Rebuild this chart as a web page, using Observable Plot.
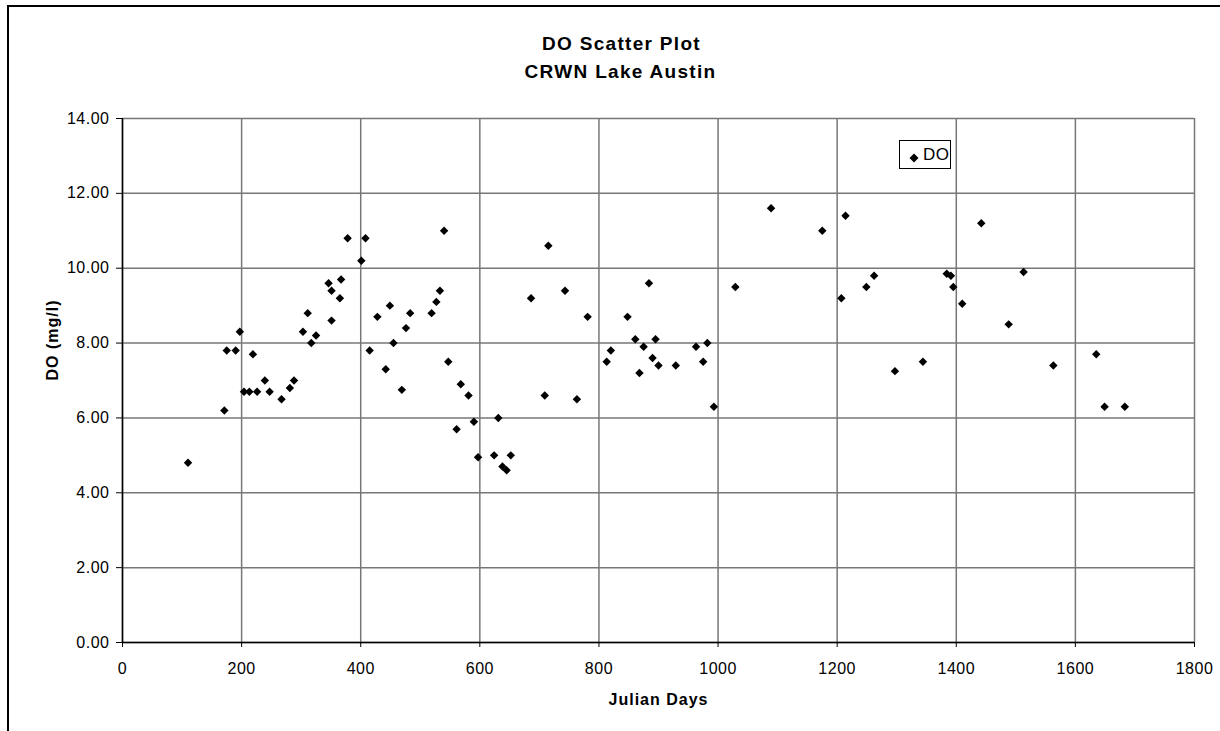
<!DOCTYPE html>
<html>
<head>
<meta charset="utf-8">
<script src="https://cdn.jsdelivr.net/npm/d3@7"></script>
<script src="https://cdn.jsdelivr.net/npm/@observablehq/plot@0.6"></script>
<style>
  html, body { margin: 0; padding: 0; background: #fff; }
  #wrap { position: relative; width: 1220px; height: 731px; overflow: hidden; font-family: "Liberation Sans", Arial, sans-serif; }
  #frame { position: absolute; left: 7px; top: 5px; width: 1300px; height: 800px; border-left: 2px solid #000; border-top: 2px solid #000; pointer-events: none; }
  #legend { position: absolute; left: 899px; top: 140px; width: 50px; height: 27px; border: 1px solid #000; background: #fff; }
  #legend svg { position: absolute; left: 9px; top: 12px; }
  #legend span { position: absolute; left: 23px; top: 4px; font-size: 17px; line-height: 20px; color: #000; letter-spacing: 0.5px; }
</style>
</head>
<body>
<div id="wrap">
  <div id="chart"></div>
  <div id="frame"></div>
  <div id="legend"><svg width="10" height="10"><polygon points="5,0.5 9.5,5 5,9.5 0.5,5" fill="#000"/></svg><span>DO</span></div>
</div>
<script>
// Julian day of each sample
const julianDays = [110, 171, 175, 190, 197, 204, 213, 219, 226, 239, 247, 267, 281, 288, 303, 311, 317, 325,
  346, 351, 351, 365, 367, 378, 401, 408, 415, 428, 442, 449, 455, 469, 476, 483, 519, 527, 533, 540,
  547, 561, 568, 581, 590, 597, 624, 631, 638, 645, 652, 686, 709, 715, 743, 763, 781, 813, 820, 848,
  861, 868, 875, 884, 890, 895, 900, 929, 963, 975, 982, 993, 1029, 1089, 1175, 1214, 1207, 1249, 1262,
  1297, 1344, 1384, 1391, 1395, 1410, 1442, 1488, 1513, 1563, 1635, 1649, 1683];
// Dissolved oxygen (mg/l)
const doValues = [4.80, 6.20, 7.80, 7.80, 8.30, 6.70, 6.70, 7.70, 6.70, 7.00, 6.70, 6.50, 6.80, 7.00, 8.30, 8.80, 8.00, 8.20,
  9.60, 9.40, 8.60, 9.20, 9.70, 10.80, 10.20, 10.80, 7.80, 8.70, 7.30, 9.00, 8.00, 6.75, 8.40, 8.80, 8.80, 9.10, 9.40, 11.00,
  7.50, 5.70, 6.90, 6.60, 5.90, 4.95, 5.00, 6.00, 4.70, 4.60, 5.00, 9.20, 6.60, 10.60, 9.40, 6.50, 8.70, 7.50, 7.80, 8.70,
  8.10, 7.20, 7.90, 9.60, 7.60, 8.10, 7.40, 7.40, 7.90, 7.50, 8.00, 6.30, 9.50, 11.60, 11.00, 11.40, 9.20, 9.50, 9.80,
  7.25, 7.50, 9.85, 9.80, 9.50, 9.05, 11.20, 8.50, 9.90, 7.40, 7.70, 6.30, 6.30];
const xTicks = [0, 200, 400, 600, 800, 1000, 1200, 1400, 1600, 1800];
const yTicks = [0, 2, 4, 6, 8, 10, 12, 14];
const titleLines = ["DO Scatter Plot", "CRWN Lake Austin"];
const xLabel = "Julian Days";
const yLabel = "DO (mg/l)";

const data = julianDays.map((d, i) => ({day: d, value: doValues[i]}));
const gridColor = "#777";

const chart = Plot.plot({
  width: 1220,
  height: 731,
  marginTop: 118,
  marginLeft: 122,
  marginRight: 26,
  marginBottom: 89,
  style: {background: "transparent", fontFamily: "'Liberation Sans', Arial, sans-serif", fontSize: "16px", color: "#000"},
  x: {domain: [0, 1800]},
  y: {domain: [0, 14]},
  marks: [
    Plot.gridX(xTicks, {stroke: gridColor, strokeOpacity: 1, strokeWidth: 1.5}),
    Plot.gridY(yTicks, {stroke: gridColor, strokeOpacity: 1, strokeWidth: 1.5}),
    Plot.ruleX([0], {stroke: "#000", strokeWidth: 1.5}),
    Plot.ruleY([0], {stroke: "#000", strokeWidth: 1.5}),
    Plot.axisX({ticks: xTicks, tickSize: 5, tickPadding: 15, tickFormat: d3.format("d"), label: null, fontSize: 16}),
    Plot.axisY({ticks: yTicks, tickSize: 6, tickPadding: 7, tickFormat: d3.format(".2f"), label: null, fontSize: 16}),
    Plot.dot(data, {x: "day", y: "value", symbol: "diamond2", r: 3.8, fill: "#000", stroke: "none"}),
    Plot.text([titleLines[0]], {text: d => d, frameAnchor: "top", lineAnchor: "middle", dx: -37, dy: -75, fontSize: 19, fontWeight: "bold", fill: "#000"}),
    Plot.text([titleLines[1]], {text: d => d, frameAnchor: "top", lineAnchor: "middle", dx: -38, dy: -47, fontSize: 19, fontWeight: "bold", fill: "#000"}),
    Plot.text([xLabel], {text: d => d, frameAnchor: "bottom", lineAnchor: "middle", dy: 57, fontSize: 16, fontWeight: "bold", fill: "#000"}),
    Plot.text([yLabel], {text: d => d, frameAnchor: "left", lineAnchor: "middle", dx: -70, rotate: -90, fontSize: 16, fontWeight: "bold", fill: "#000"})
  ]
});
// letter spacing to match the wider reference lettering
d3.select(chart).selectAll("text").attr("letter-spacing", "0.5px");
d3.select(chart).selectAll("text").filter(function() { return titleLines.includes(this.textContent); }).attr("letter-spacing", "1.3px");
d3.select(chart).selectAll("text").filter(function() { return this.textContent === xLabel || this.textContent === yLabel; }).attr("letter-spacing", "1px");
document.getElementById("chart").appendChild(chart);
</script>
</body>
</html>
